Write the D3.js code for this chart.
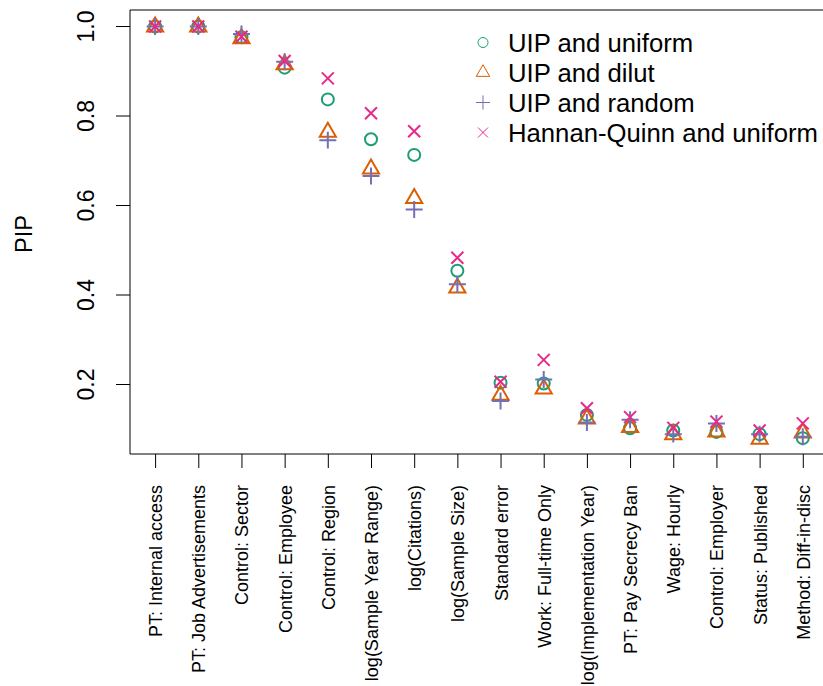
<!DOCTYPE html>
<html>
<head>
<meta charset="utf-8">
<script src="https://cdn.jsdelivr.net/npm/d3@7"></script>
<style>
  html, body { margin: 0; padding: 0; background: #fff; }
  svg { display: block; font-family: "Liberation Sans", Arial, Helvetica, sans-serif; }
</style>
</head>
<body>
<svg id="chart" width="823" height="686"></svg>
<script>
// ---- data ----
const categories = [
  "PT: Internal access", "PT: Job Advertisements", "Control: Sector", "Control: Employee",
  "Control: Region", "log(Sample Year Range)", "log(Citations)", "log(Sample Size)",
  "Standard error", "Work: Full-time Only", "log(Implementation Year)", "PT: Pay Secrecy Ban",
  "Wage: Hourly", "Control: Employer", "Status: Published", "Method: Diff-in-disc"
];
const uipUniform = [0.999, 0.999, 0.975, 0.907, 0.836, 0.747, 0.712, 0.453, 0.203, 0.201, 0.131, 0.101, 0.096, 0.093, 0.088, 0.079];
const uipDilut   = [0.998, 0.998, 0.972, 0.914, 0.763, 0.681, 0.615, 0.415, 0.175, 0.189, 0.122, 0.103, 0.087, 0.093, 0.077, 0.091];
const uipRandom  = [0.999, 0.999, 0.982, 0.920, 0.745, 0.665, 0.590, 0.423, 0.162, 0.210, 0.114, 0.120, 0.088, 0.112, 0.088, 0.082];
const hqUniform  = [0.999, 0.999, 0.976, 0.922, 0.883, 0.805, 0.765, 0.482, 0.205, 0.254, 0.146, 0.126, 0.102, 0.116, 0.096, 0.112];
const seriesNames = ["UIP and uniform", "UIP and dilut", "UIP and random", "Hannan-Quinn and uniform"];
const yTicks = [0.2, 0.4, 0.6, 0.8, 1.0];
const yLabel = "PIP";

// ---- styles ----
const colors = ["#1B9E77", "#D95F02", "#7570B3", "#E7298A"];
const shapes = ["circle", "triangle", "plus", "cross"];
const seriesValues = [uipUniform, uipDilut, uipRandom, hqUniform];

const svg = d3.select("#chart");
const plotLeft = 130, plotTop = 10, plotBottom = 454;

const x = d3.scaleLinear().domain([0.4, 16.6]).range([129.2, 828.7]);
const y = d3.scaleLinear().domain([0.0436, 1.0358]).range([plotBottom, plotTop]);

function symbolPath(shape, cx, cy, R) {
  switch (shape) {
    case "triangle":
      return `M${cx},${cy - 1.555 * R}L${cx + 1.347 * R},${cy + 0.778 * R}L${cx - 1.347 * R},${cy + 0.778 * R}Z`;
    case "plus":
      return `M${cx - 1.414 * R},${cy}H${cx + 1.414 * R}M${cx},${cy - 1.414 * R}V${cy + 1.414 * R}`;
    case "cross":
      return `M${cx - R},${cy - R}L${cx + R},${cy + R}M${cx - R},${cy + R}L${cx + R},${cy - R}`;
    default:
      return `M${cx + R},${cy}A${R},${R} 0 1,1 ${cx - R},${cy}A${R},${R} 0 1,1 ${cx + R},${cy}Z`;
  }
}

// box
svg.append("path")
  .attr("d", `M900,${plotTop}H${plotLeft}V${plotBottom}H900`)
  .attr("fill", "none").attr("stroke", "#000").attr("stroke-width", 1);

// y axis
const yAxis = svg.append("g").attr("transform", `translate(${plotLeft},0)`)
  .call(d3.axisLeft(y).tickValues(yTicks).tickSize(14).tickFormat(d3.format(".1f")));
yAxis.select(".domain").remove();
yAxis.selectAll(".tick line").attr("stroke", "#000");
yAxis.selectAll(".tick text")
  .attr("transform", "rotate(-90)")
  .attr("x", 0).attr("y", -36.5).attr("dy", null)
  .attr("text-anchor", "middle")
  .attr("font-size", 23).attr("font-family", null).attr("fill", "#000");

// x axis
const xAxis = svg.append("g").attr("transform", `translate(0,${plotBottom})`)
  .call(d3.axisBottom(x).tickValues(d3.range(1, categories.length + 1)).tickSize(14)
    .tickFormat(i => categories[i - 1]));
xAxis.select(".domain").remove();
xAxis.selectAll(".tick line").attr("stroke", "#000");
xAxis.selectAll(".tick text")
  .attr("transform", "rotate(-90)")
  .attr("x", -31).attr("y", 6.5).attr("dy", null)
  .attr("text-anchor", "end")
  .attr("font-size", 18).attr("font-family", null).attr("fill", "#000");

// y label
svg.append("text")
  .attr("transform", `translate(32,234) rotate(-90)`)
  .attr("text-anchor", "middle")
  .attr("font-size", 23.5)
  .text(yLabel);

// points
seriesValues.forEach((vals, s) => {
  svg.append("g").selectAll("path")
    .data(vals)
    .join("path")
    .attr("d", (v, i) => symbolPath(shapes[s], x(i + 1), y(v), 6))
    .attr("fill", "none")
    .attr("stroke", colors[s])
    .attr("stroke-width", 2);
});

// legend
const leg = svg.append("g");
seriesNames.forEach((name, s) => {
  const base = 51.5 + s * 30;
  leg.append("path")
    .attr("d", symbolPath(shapes[s], 483, base - 9, 5))
    .attr("fill", "none").attr("stroke", colors[s]).attr("stroke-width", 1);
  leg.append("text")
    .attr("x", 508).attr("y", base)
    .attr("font-size", 25.7).attr("fill", "#000")
    .text(name);
});
</script>
</body>
</html>
